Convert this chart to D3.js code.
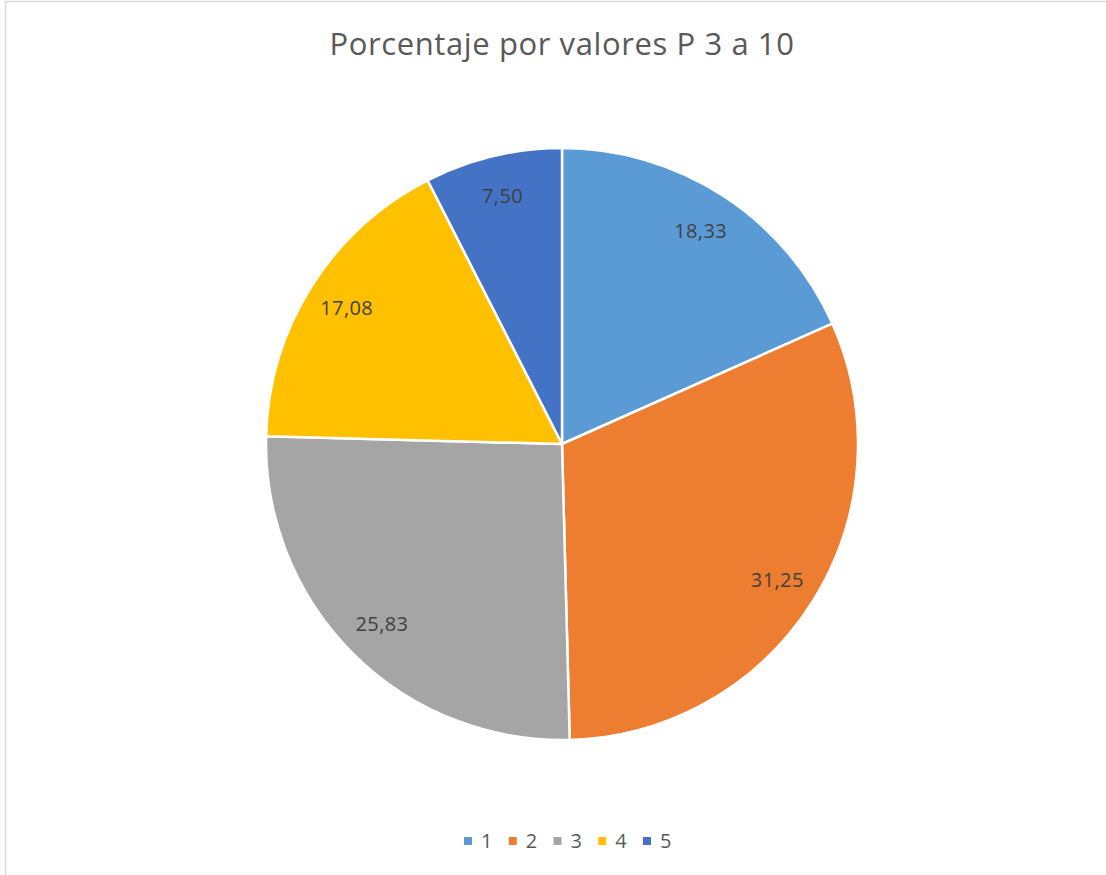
<!DOCTYPE html>
<html>
<head>
<meta charset="utf-8">
<script src="https://cdn.jsdelivr.net/npm/d3@7"></script>
<style>
  body { margin: 0; background: #fff; }
  svg { display: block; }
</style>
</head>
<body>
<div id="chart"></div>
<script>
var categories = ['1', '2', '3', '4', '5'];
var values = [18.33, 31.25, 25.83, 17.08, 7.50];
var colors = ['#5b9bd5', '#ed7d31', '#a5a5a5', '#ffc000', '#4472c4'];
var title = 'Porcentaje por valores P 3 a 10';

var w = 1106;
var h = 875;
var cx = 562, cy = 444, r = 296;

var svg = d3.select('#chart')
	.append('svg')
	.attr('width', w)
	.attr('height', h);

// chart area border
svg.append('rect')
	.attr('x', 5.5)
	.attr('y', 1.5)
	.attr('width', w + 20)
	.attr('height', h + 20)
	.attr('fill', 'none')
	.attr('stroke', '#d9d9d9')
	.attr('stroke-width', 1.5);

svg.append('text')
	.text(title)
	.attr('x', 562)
	.attr('y', 55)
	.attr('text-anchor', 'middle')
	.attr('font-family', 'Open Sans, sans-serif')
	.attr('font-size', '31px')
	.attr('letter-spacing', '0.6px')
	.attr('fill', '#595959');

var pie = d3.pie().sort(null).value(function (d) { return d; });
var arcs = pie(values);
var arc = d3.arc().innerRadius(0).outerRadius(r);
var labelArc = d3.arc().innerRadius(r * 0.86).outerRadius(r * 0.86);
var color = d3.scaleOrdinal().domain(categories).range(colors);

var g = svg.append('g').attr('transform', 'translate(' + cx + ',' + cy + ')');

g.selectAll('path')
	.data(arcs)
	.enter()
	.append('path')
	.attr('d', arc)
	.attr('fill', function (d, i) { return color(categories[i]); })
	.attr('stroke', '#fff')
	.attr('stroke-width', 2.5)
	.attr('stroke-linejoin', 'round');

g.selectAll('text')
	.data(arcs)
	.enter()
	.append('text')
	.text(function (d) { return d3.format('.2f')(d.data).replace('.', ','); })
	.attr('x', function (d) { return labelArc.centroid(d)[0]; })
	.attr('y', function (d) { return labelArc.centroid(d)[1]; })
	.attr('dy', '0.35em')
	.attr('text-anchor', 'middle')
	.attr('font-family', 'Open Sans, sans-serif')
	.attr('font-size', '20px')
	.attr('letter-spacing', '0.4px')
	.attr('fill', '#404040');

// legend
var legend = svg.append('g');
var lx = d3.scalePoint().domain(categories).range([464, 643]);
var items = legend.selectAll('g')
	.data(categories)
	.enter()
	.append('g')
	.attr('transform', function (d) { return 'translate(' + lx(d) + ',837)'; });
items.append('rect')
	.attr('width', 8)
	.attr('height', 8)
	.attr('fill', function (d) { return color(d); });
items.append('text')
	.text(function (d) { return d; })
	.attr('x', 17)
	.attr('y', 11)
	.attr('font-family', 'Open Sans, sans-serif')
	.attr('font-size', '20px')
	.attr('fill', '#595959');
</script>
</body>
</html>
